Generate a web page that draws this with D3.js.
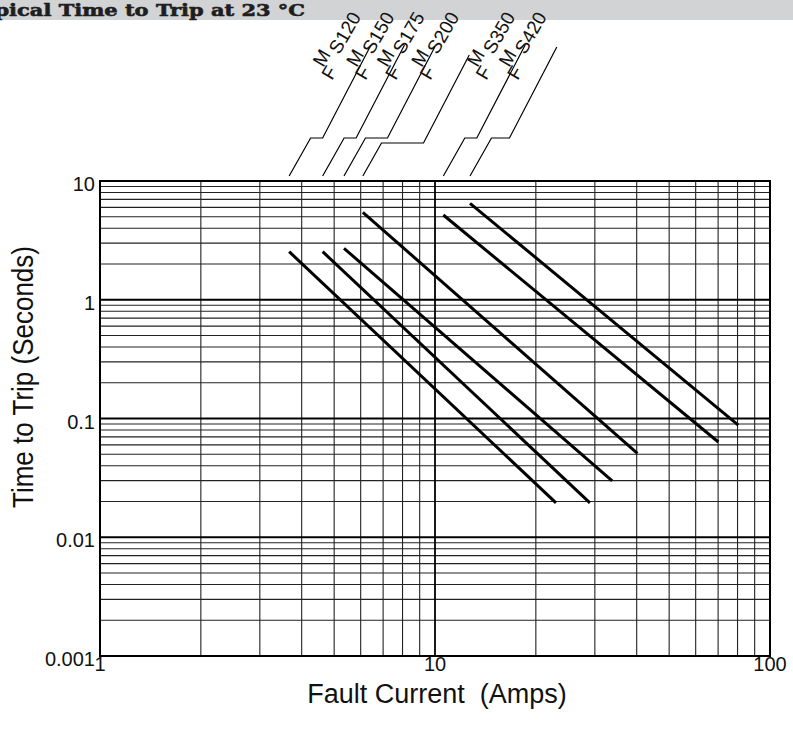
<!DOCTYPE html>
<html><head><meta charset="utf-8">
<script src="https://cdn.jsdelivr.net/npm/d3@7"></script>
<style>body{margin:0;background:#fff}</style>
</head><body><svg id="c" width="793" height="739"></svg>
<script>
// ---- data ----
const title = "Typical Time to Trip at 23 °C";
const xLabel = "Fault Current\u00a0\u00a0(Amps)";
const yLabel = "Time to Trip (Seconds)";
const xTicks = [1, 10, 100];
const xTickLabels = ["1", "10", "100"];
const yTicks = [0.001, 0.01, 0.1, 1, 10];
const yTickLabels = ["0.001", "0.01", "0.1", "1", "10"];
const seriesNames = ["120", "150", "175", "200", "350", "420"];
const labelPrefixes = ["F", "M", "S"];
const startCurrent = [3.67, 4.62, 5.35, 6.09, 10.59, 12.72];
const startTime = [2.54, 2.54, 2.71, 5.45, 5.17, 6.49];
const endCurrent = [22.97, 29.0, 33.8, 40.2, 70.1, 80.4];
const endTime = [0.0195, 0.0195, 0.0298, 0.0509, 0.0634, 0.0881];

// ---- leader layout (pixels above plot top) ----
const leaderKinkRise = [43, 43, 43, 38, 43, 43];
const leaderKinkWidth = [12, 12, 22, 42, 12, 18];
const leaderTopRise = [136, 136, 134, 126, 136, 134];

const svg = d3.select("#c");
const W = 793;
const x = d3.scaleLog().domain([1, 100]).range([100, 770]);
const y = d3.scaleLog().domain([0.001, 10]).range([656, 181]);
const plotTop = y.range()[1];

// title bar
svg.append("rect").attr("x", 0).attr("y", 0).attr("width", W).attr("height", 20).attr("fill", "#d1d3d4");
svg.append("text").attr("x", 305).attr("y", 16).attr("text-anchor", "end")
  .attr("font-family", "DejaVu Serif").attr("font-weight", "bold").attr("font-size", 17)
  .attr("textLength", 336).attr("lengthAdjust", "spacingAndGlyphs")
  .attr("fill", "#1e1e1e").attr("stroke", "#1e1e1e").attr("stroke-width", 0.6).text(title);

// grid
const g = svg.append("g");
const xMinor = [], yMinor = [];
[1, 10].forEach(d => { for (let k = 2; k <= 9; k++) xMinor.push(d * k); });
[0.001, 0.01, 0.1, 1].forEach(d => { for (let k = 2; k <= 9; k++) yMinor.push(d * k); });

g.selectAll(".vx").data(xMinor).join("line")
  .attr("x1", d => x(d)).attr("x2", d => x(d)).attr("y1", y(10)).attr("y2", y(0.001))
  .attr("stroke", "#222").attr("stroke-width", 1.1);
g.selectAll(".hy").data(yMinor).join("line")
  .attr("y1", d => y(d)).attr("y2", d => y(d)).attr("x1", x(1)).attr("x2", x(100))
  .attr("stroke", "#222").attr("stroke-width", 1.1);
g.selectAll(".vmaj").data([10]).join("line")
  .attr("x1", d => x(d)).attr("x2", d => x(d)).attr("y1", y(10)).attr("y2", y(0.001))
  .attr("stroke", "#000").attr("stroke-width", 1.8);
g.selectAll(".hmaj").data([0.01, 0.1, 1]).join("line")
  .attr("y1", d => y(d)).attr("y2", d => y(d)).attr("x1", x(1)).attr("x2", x(100))
  .attr("stroke", "#000").attr("stroke-width", 1.8);
g.append("rect").attr("x", x(1)).attr("y", y(10)).attr("width", x(100) - x(1)).attr("height", y(0.001) - y(10))
  .attr("fill", "none").attr("stroke", "#000").attr("stroke-width", 2);

// tick labels
const font = "Liberation Sans, Arial, sans-serif";
svg.selectAll(".yt").data(yTicks).join("text")
  .attr("x", 95).attr("y", d => y(d) + 10).attr("text-anchor", "end")
  .attr("font-family", font).attr("font-size", 20).attr("fill", "#111")
  .text((d, i) => yTickLabels[i]);
svg.selectAll(".xt").data(xTicks).join("text")
  .attr("x", d => x(d)).attr("y", 671).attr("text-anchor", "middle")
  .attr("font-family", font).attr("font-size", 20).attr("fill", "#111")
  .text((d, i) => xTickLabels[i]);

// axis titles
svg.append("text").attr("x", 437).attr("y", 703).attr("text-anchor", "middle")
  .attr("font-family", font).attr("font-size", 27).attr("fill", "#111").text(xLabel);
svg.append("text").attr("transform", "translate(33,377) rotate(-90)").attr("text-anchor", "middle")
  .attr("font-family", font).attr("font-size", 29)
  .attr("textLength", 262).attr("lengthAdjust", "spacingAndGlyphs")
  .attr("fill", "#111").text(yLabel);

// series lines
const line = d3.line().x(d => x(d[0])).y(d => y(d[1]));
const series = seriesNames.map((n, i) => ({
  name: n, pts: [[startCurrent[i], startTime[i]], [endCurrent[i], endTime[i]]]
}));
svg.selectAll(".s").data(series).join("path")
  .attr("d", d => line(d.pts)).attr("fill", "none").attr("stroke", "#000").attr("stroke-width", 3);

// leaders + labels
series.forEach((s, i) => {
  const x0 = x(startCurrent[i]);
  const p0 = [x0, plotTop - 5];
  const kr = leaderKinkRise[i];
  const p1 = [x0 + (kr - 5) * 0.565, plotTop - kr];
  const p2 = [p1[0] + leaderKinkWidth[i], plotTop - kr];
  const tr = leaderTopRise[i];
  const p3 = [p2[0] + (tr - kr) * 0.52, plotTop - tr];
  svg.append("path").attr("d", d3.line()([p0, p1, p2, p3]))
    .attr("fill", "none").attr("stroke", "#000").attr("stroke-width", 1.2);
  const lg = svg.append("g").attr("transform", `translate(${p3[0] - 39},81) rotate(-60)`)
    .attr("font-family", font).attr("font-size", 19).attr("fill", "#111");
  lg.append("text").attr("x", 0).attr("y", 0).text(labelPrefixes[0]);
  lg.append("text").attr("x", 7).attr("y", -14).text(labelPrefixes[1]);
  lg.append("text").attr("x", 26).attr("y", -6.5).text(labelPrefixes[2] + s.name);
});
</script></body></html>
